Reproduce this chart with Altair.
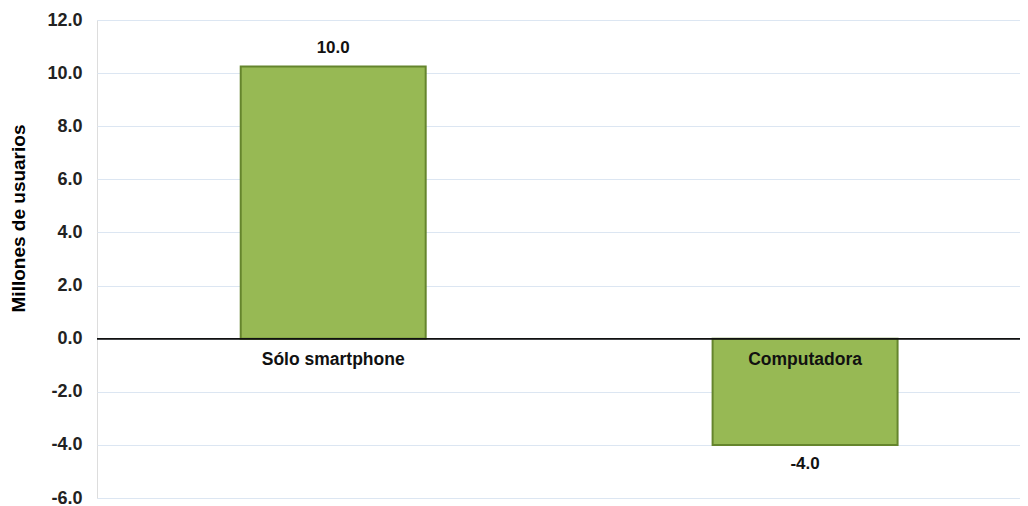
import altair as alt
import pandas as pd

categories = ["Sólo smartphone", "Computadora"]
values = [10.25, -4.0]
value_labels = ["10.0", "-4.0"]
y_ticks = [-6, -4, -2, 0, 2, 4, 6, 8, 10, 12]

df = pd.DataFrame({
    "cat": categories,
    "val": values,
    "lbl": value_labels,
    "zero": [0, 0],
    "pos": ["top" if v >= 0 else "bottom" for v in values],
})

FONT = "Liberation Sans"
xenc = alt.X("cat:N", sort=categories, axis=None,
             scale=alt.Scale(paddingInner=0.608, paddingOuter=0.282, align=0.54))
yscale = alt.Scale(domain=[-6, 12], nice=False)

bars = alt.Chart(df).mark_bar(
    color="#97B954", stroke="#65852D", strokeWidth=2
).encode(
    x=xenc,
    y=alt.Y("val:Q", scale=yscale,
            axis=alt.Axis(values=y_ticks, format=".1f", title="Millones de usuarios",
                          labelExpr="replace(datum.label, '\u2212', '-')",
                          domain=False, ticks=False, labelPadding=15,
                          labelFont=FONT, labelFontSize=18, labelFontWeight="bold",
                          labelColor="#222222",
                          titleFont=FONT, titleFontSize=19, titleFontWeight="bold",
                          titleColor="#000000", titleAngle=270, titleAlign="center",
                          titleBaseline="middle", titleX=-79, titleY=198,
                          grid=True, gridColor="#DCE6F2", gridWidth=1)),
    y2=alt.Y2("zero:Q"),
)

zero_rule = alt.Chart(df).mark_rule(color="#111111", strokeWidth=1.5).encode(
    y=alt.Y("z:Q", scale=yscale),
    x=alt.value(0), x2=alt.value(923),
).transform_calculate(z="0")

top_lbl = alt.Chart(df).transform_filter("datum.pos == 'top'").mark_text(
    font=FONT, fontSize=17, fontWeight="bold", color="#111111", baseline="bottom", dy=-9
).encode(x=xenc, y=alt.Y("val:Q", scale=yscale), text="lbl:N")

bot_lbl = alt.Chart(df).transform_filter("datum.pos == 'bottom'").mark_text(
    font=FONT, fontSize=17, fontWeight="bold", color="#111111", baseline="top", dy=11
).encode(x=xenc, y=alt.Y("val:Q", scale=yscale), text="lbl:N")

cat_lbl = alt.Chart(df).mark_text(
    font=FONT, fontSize=17.5, fontWeight="bold", color="#111111", baseline="middle", dy=21
).encode(x=xenc, y=alt.Y("zero:Q", scale=yscale), text="cat:N")

chart = alt.layer(bars, zero_rule, top_lbl, bot_lbl, cat_lbl).properties(
    width=923, height=478,
    padding={"left": 89, "top": 12, "right": 0, "bottom": 8},
    autosize="none",
).configure_view(stroke=None).configure(background="white")

chart.save("out.html", embed_options={"renderer": "svg", "actions": False})
